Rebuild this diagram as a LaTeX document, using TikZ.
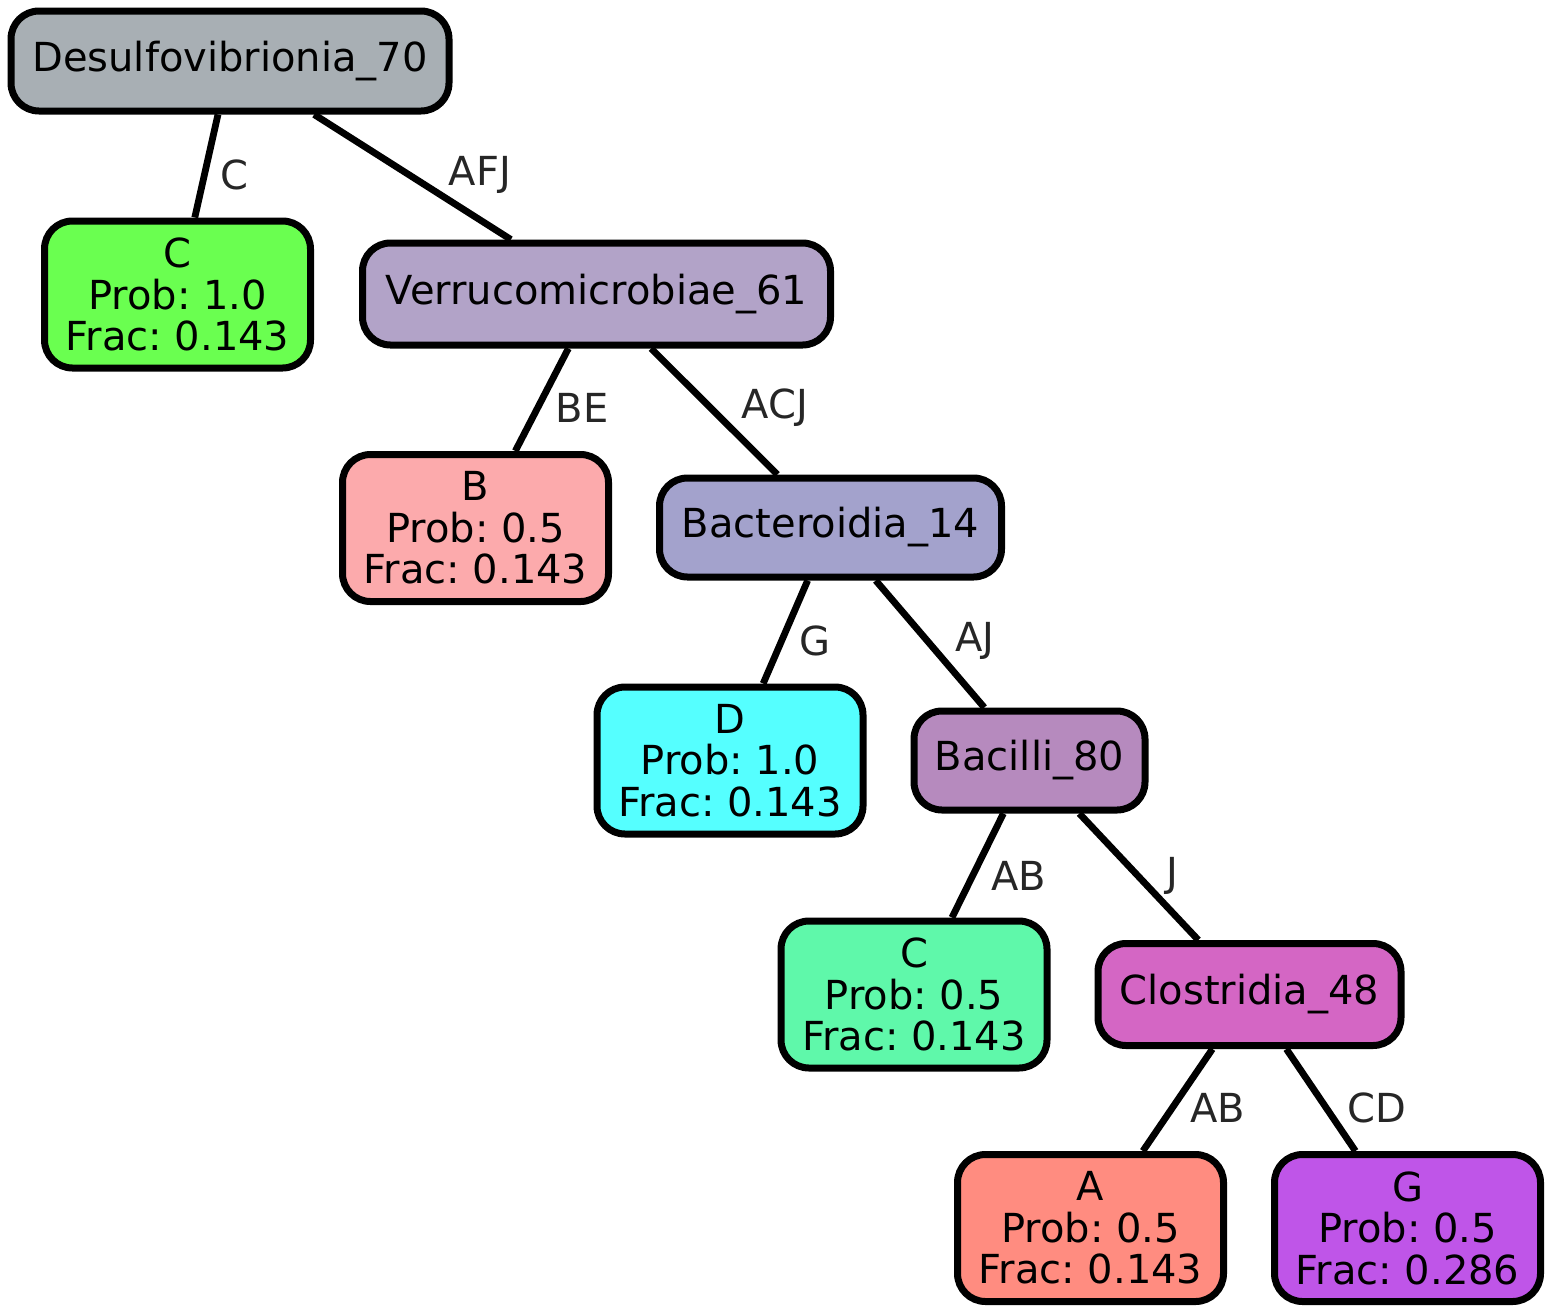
\documentclass[tikz,border=0pt]{standalone}
\usepackage{fontspec}
\setmainfont{DejaVu Sans}
\frenchspacing
\usepackage{tikz}
\usetikzlibrary{backgrounds}
\definecolor{cDesulfo}{HTML}{A8AFB4}
\definecolor{cLeafC}{HTML}{6AFF50}
\definecolor{cVerruco}{HTML}{B2A3C8}
\definecolor{cLeafB}{HTML}{FCAAAC}
\definecolor{cBactero}{HTML}{A3A2CC}
\definecolor{cLeafD}{HTML}{55FFFF}
\definecolor{cBacilli}{HTML}{B68ABE}
\definecolor{cLeafCb}{HTML}{5FF8AA}
\definecolor{cClostr}{HTML}{D466C4}
\definecolor{cLeafA}{HTML}{FF8C80}
\definecolor{cLeafG}{HTML}{BF55E8}
\tikzstyle{box}=[rectangle, draw, line width=3.5pt, rounded corners=14pt, inner sep=0pt, align=center, font=\fontsize{20}{20.75}\selectfont]
\tikzstyle{leaf}=[box, minimum width=133pt, minimum height=73.5pt]
\tikzstyle{lbl}=[text=black!85, font=\fontsize{20}{24}\selectfont, inner sep=0pt]
\tikzstyle{kante}=[line width=3.4pt]

\begin{document}
\begin{tikzpicture}[x=0.5pt, y=-0.5pt]
        \useasboundingbox (0,0) rectangle (1553,1313);

        % Knoten
        \node[box, fill=cDesulfo, minimum width=219pt, minimum height=50pt] (D70) at (230,61) {Desulfovibrionia\_70};
        \node[leaf, fill=cLeafC] (LC1) at (177.5,294.5) {C\\Prob: 1.0\\Frac: 0.143};
        \node[box, fill=cVerruco, minimum width=234pt, minimum height=51pt] (V61) at (596.5,294) {Verrucomicrobiae\_61};
        \node[leaf, fill=cLeafB] (LB) at (475.5,528) {B\\Prob: 0.5\\Frac: 0.143};
        \node[box, fill=cBactero, minimum width=171pt, minimum height=49.5pt] (B14) at (830.5,527.5) {Bacteroidia\_14};
        \node[leaf, fill=cLeafD] (LD) at (730,760.5) {D\\Prob: 1.0\\Frac: 0.143};
        \node[box, fill=cBacilli, minimum width=115.5pt, minimum height=49.5pt] (B80) at (1029.5,760.5) {Bacilli\_80};
        \node[leaf, fill=cLeafCb] (LC2) at (914,994.5) {C\\Prob: 0.5\\Frac: 0.143};
        \node[box, fill=cClostr, minimum width=151.5pt, minimum height=51pt] (C48) at (1249.5,994.5) {Clostridia\_48};
        \node[leaf, fill=cLeafA] (LA) at (1090.5,1228) {A\\Prob: 0.5\\Frac: 0.143};
        \node[leaf, fill=cLeafG] (LG) at (1407.5,1228) {G\\Prob: 0.5\\Frac: 0.286};

        % Kanten
        \begin{scope}[on background layer]
        \draw[kante] (D70) -- (LC1);
        \draw[kante] (D70) -- (V61);
        \draw[kante] (V61) -- (LB);
        \draw[kante] (V61) -- (B14);
        \draw[kante] (B14) -- (LD);
        \draw[kante] (B14) -- (B80);
        \draw[kante] (B80) -- (LC2);
        \draw[kante] (B80) -- (C48);
        \draw[kante] (C48) -- (LA);
        \draw[kante] (C48) -- (LG);
        \end{scope}

        % Beschriftungen
        \node[lbl] (tC1) at (234,175) {C};
        \node[lbl] (tAFJ) at (480,175) {AFJ};
        \node[lbl] (tBE) at (582,408) {BE};
        \node[lbl] (tACJ) at (775,408) {ACJ};
        \node[lbl] (tG1) at (815,641) {G};
        \node[lbl] (tAJ) at (975,641) {AJ};
        \node[lbl] (tAB1) at (1019,876) {AB};
        \node[lbl] (tJ) at (1172,876) {J};
        \node[lbl] (tAB2) at (1218,1108) {AB};
        \node[lbl] (tCD) at (1377,1108) {CD};
    \end{tikzpicture}
\end{document}
